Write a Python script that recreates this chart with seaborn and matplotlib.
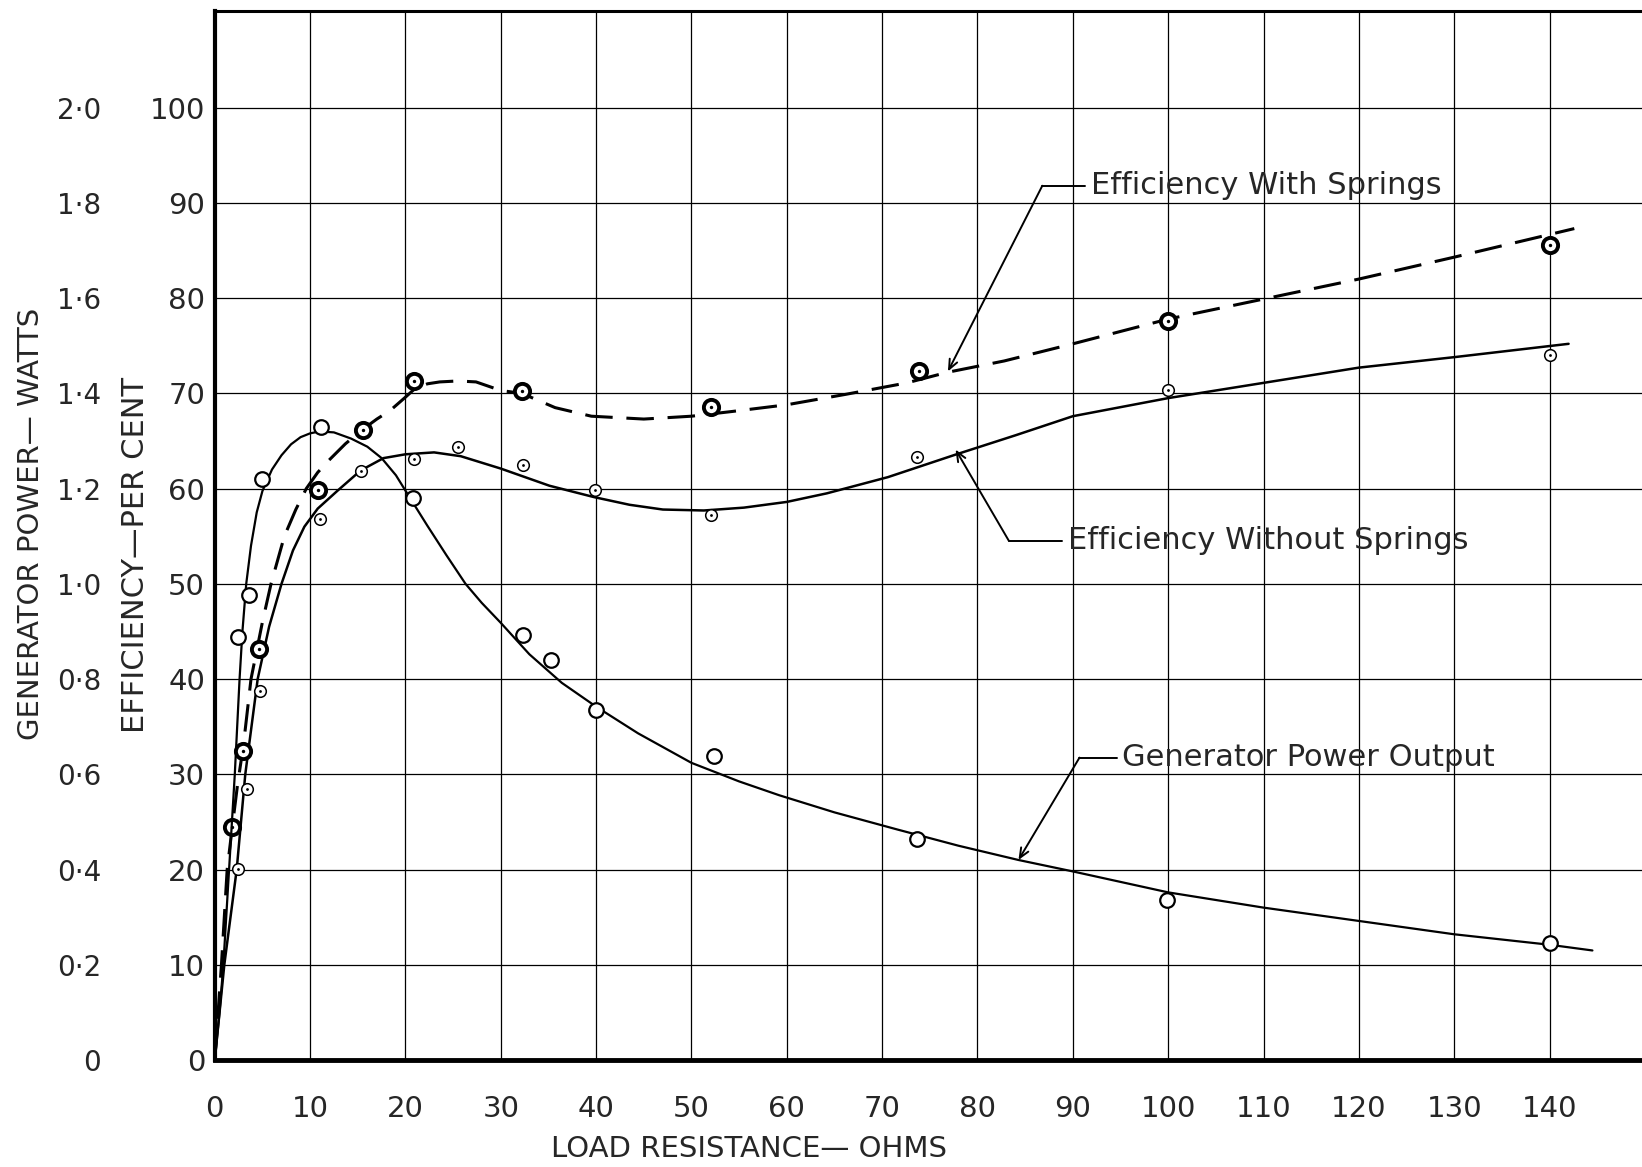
import numpy as np
import pandas as pd
import seaborn as sns
import matplotlib
matplotlib.use("Agg")
import matplotlib.pyplot as plt

# load resistance (ohms) vs efficiency (%) and generator power (W)
# generator power output - fitted curve (watts)
power_curve_x = [0, 0.5, 0.9, 1.5, 2.1, 2.6, 2.9, 3.3, 3.8, 4.4, 5.0, 6.0, 7.0, 8.0, 9.0,
                 10.0, 11.0, 12.5, 14.3, 16.0, 17.5, 19.0, 20.3, 22.3, 24.3, 26.3, 28.0,
                 30, 33, 36.4, 40, 44.4, 50, 55, 59.2, 65, 71.6, 78, 84.3, 90, 100,
                 110, 120, 130, 140, 144.5]
power_curve_w = [0, 0.10, 0.20, 0.40, 0.60, 0.80, 0.90, 1.00, 1.08, 1.15, 1.195, 1.24, 1.27,
                 1.293, 1.308, 1.316, 1.32, 1.318, 1.305, 1.288, 1.264, 1.228, 1.186, 1.122,
                 1.06, 1.00, 0.96, 0.918, 0.852, 0.792, 0.742, 0.686, 0.624, 0.585, 0.556,
                 0.52, 0.484, 0.45, 0.42, 0.396, 0.352, 0.32, 0.292, 0.264, 0.242, 0.23]
# measured power points
power_pts_x = [2.4, 3.6, 5.0, 11.1, 20.8, 32.3, 35.3, 40.0, 52.4, 73.7, 99.9, 140.1]
power_pts_w = [0.888, 0.976, 1.22, 1.33, 1.18, 0.892, 0.84, 0.736, 0.638, 0.464, 0.336, 0.246]

# efficiency with springs - dashed curve (%)
spr_curve_x = [0, 0.7, 1.3, 1.84, 2.4, 3.0, 3.8, 5.0, 5.9, 7.3, 8.5, 9.6, 10.8, 12, 13.7,
               15.5, 17, 18.4, 20, 21, 22.3, 23.6, 25.5, 27.4, 30, 32.2, 35.7, 39.5, 45,
               50, 54.3, 60, 66.2, 72.6, 76.8, 82.8, 90, 100, 110, 120, 130, 142.6]
spr_curve_eff = [0, 10, 20, 24.5, 29, 33, 40, 46, 50, 55, 57.8, 60, 61.7, 63, 64.7,
                 66.2, 67.3, 68.2, 69.6, 70.5, 71.0, 71.2, 71.3, 71.2, 70.3, 70.0, 68.5,
                 67.6, 67.3, 67.6, 68.1, 68.8, 69.9, 71.1, 72.2, 73.4, 75.2, 77.8, 79.9,
                 82.0, 84.3, 87.3]
spr_pts_x = [1.84, 3.0, 4.6, 10.8, 15.5, 20.9, 32.2, 52.0, 73.9, 100.0, 140.0]
spr_pts_eff = [24.5, 32.4, 43.2, 59.9, 66.1, 71.3, 70.2, 68.6, 72.3, 77.6, 85.6]

# efficiency without springs - solid curve (%)
nos_curve_x = [0, 1.0, 2.3, 3.2, 4.5, 5.7, 7.0, 8.2, 9.4, 10.8, 12.9, 15.3, 17.7, 20, 23,
               25.8, 30, 35.1, 39.8, 43.5, 47, 51.3, 55.5, 60, 64.2, 70.6, 77.8, 84, 90,
               100, 110, 120, 130, 142]
nos_curve_eff = [0, 10, 20, 30, 40, 45.5, 50, 53.5, 56.0, 57.9, 59.8, 61.9, 63.2, 63.6,
                 63.8, 63.4, 62.1, 60.3, 59.1, 58.3, 57.8, 57.7, 58.0, 58.6, 59.5, 61.2,
                 63.6, 65.6, 67.6, 69.5, 71.1, 72.7, 73.8, 75.2]
nos_pts_x = [2.4, 3.4, 4.7, 11.0, 15.3, 20.9, 25.5, 32.3, 39.9, 52.1, 73.7, 100.0, 140.0]
nos_pts_eff = [20.1, 28.5, 38.7, 56.8, 61.8, 63.1, 64.4, 62.5, 59.9, 57.2, 63.3, 70.3, 74.0]

x_ticks = list(range(0, 150, 10))
eff_ticks = list(range(0, 110, 10))
eff_labels = [str(v) for v in eff_ticks]
power_ticks = [0, 0.2, 0.4, 0.6, 0.8, 1.0, 1.2, 1.4, 1.6, 1.8, 2.0]
power_labels = ["0", "0·2", "0·4", "0·6", "0·8", "1·0", "1·2", "1·4", "1·6", "1·8", "2·0"]

sns.set_style("white")
plt.rcParams["font.family"] = ["DejaVu Sans"]

fig = plt.figure(figsize=(16.42, 11.67), dpi=100)
ax = fig.add_axes([0.1308, 0.0917, 0.8692, 0.8993])
ax2 = ax.twinx()

EFF_TOP = 110.2
ax.set_xlim(0, 149.7)
ax.set_ylim(0, EFF_TOP)
ax2.set_ylim(0, EFF_TOP / 50)

# grid
ax.set_xticks(x_ticks)
ax.set_xticklabels([str(v) for v in x_ticks], fontsize=21)
ax.set_yticks(eff_ticks)
ax.set_yticklabels(eff_labels, fontsize=21)
ax.grid(True, color="black", lw=0.9)
ax.tick_params(axis="both", length=0)
ax.tick_params(axis="x", pad=25)
ax.tick_params(axis="y", pad=7)

for s in ["top", "left", "bottom"]:
    ax.spines[s].set_color("black")
ax.spines["left"].set_linewidth(3)
ax.spines["bottom"].set_linewidth(3.5)
ax.spines["top"].set_linewidth(2.2)
ax.spines["right"].set_visible(False)
for s in ax2.spines.values():
    s.set_visible(False)

# power scale on the far left
ax2.yaxis.tick_left()
ax2.spines["left"].set_position(("outward", 76))
ax2.set_yticks(power_ticks)
ax2.set_yticklabels(power_labels, fontsize=20)
ax2.tick_params(axis="y", length=0, pad=6)

# curves
sns.lineplot(x=power_curve_x, y=power_curve_w, ax=ax2, color="black", lw=1.6)
sns.lineplot(x=nos_curve_x, y=nos_curve_eff, ax=ax, color="black", lw=1.8)
sns.lineplot(x=spr_curve_x, y=spr_curve_eff, ax=ax, color="black", lw=2.2)
ax.lines[-1].set_dashes([9, 4.5])

# measured points
sns.scatterplot(x=power_pts_x, y=power_pts_w, ax=ax2, marker="o", s=110,
                color="white", edgecolor="black", linewidth=1.6, zorder=5)
sns.scatterplot(x=nos_pts_x, y=nos_pts_eff, ax=ax, marker="o", s=70,
                color="white", edgecolor="black", linewidth=1.1, zorder=5)
sns.scatterplot(x=nos_pts_x, y=nos_pts_eff, ax=ax, marker="o", s=4,
                color="black", linewidth=0, zorder=6)
sns.scatterplot(x=spr_pts_x, y=spr_pts_eff, ax=ax, marker="o", s=120,
                color="white", edgecolor="black", linewidth=2.8, zorder=5)
sns.scatterplot(x=spr_pts_x, y=spr_pts_eff, ax=ax, marker="o", s=6,
                color="black", linewidth=0, zorder=6)

# labels with leader lines
arrow = dict(arrowstyle="->,head_length=0.7,head_width=0.3", color="black", lw=1.4,
             shrinkA=0, shrinkB=0)
notes = [
    ("Efficiency With Springs", (76.9, 72.3), (86.8, 91.8), 91.3),
    ("Efficiency Without Springs", (77.7, 64.1), (83.3, 54.5), 88.9),
    ("Generator Power Output", (84.3, 21.0), (90.7, 31.75), 94.6),
]
for label, tip, corner, x_end in notes:
    ax.annotate("", xy=tip, xytext=corner, arrowprops=arrow)
    ax.plot([corner[0], x_end], [corner[1], corner[1]], color="black", lw=1.4)
    ax.text(x_end + 0.6, corner[1], label, fontsize=22, ha="left", va="center")

fig.text(0.0189, 0.551, "GENERATOR POWER— WATTS", rotation=90, ha="center",
         va="center", fontsize=21)
fig.text(0.0828, 0.524, "EFFICIENCY—PER CENT", rotation=90, ha="center",
         va="center", fontsize=22)
fig.text(0.456, 0.0154, "LOAD RESISTANCE— OHMS", ha="center", va="center",
         fontsize=21)

fig.savefig("out.png", dpi=100, facecolor="white")
